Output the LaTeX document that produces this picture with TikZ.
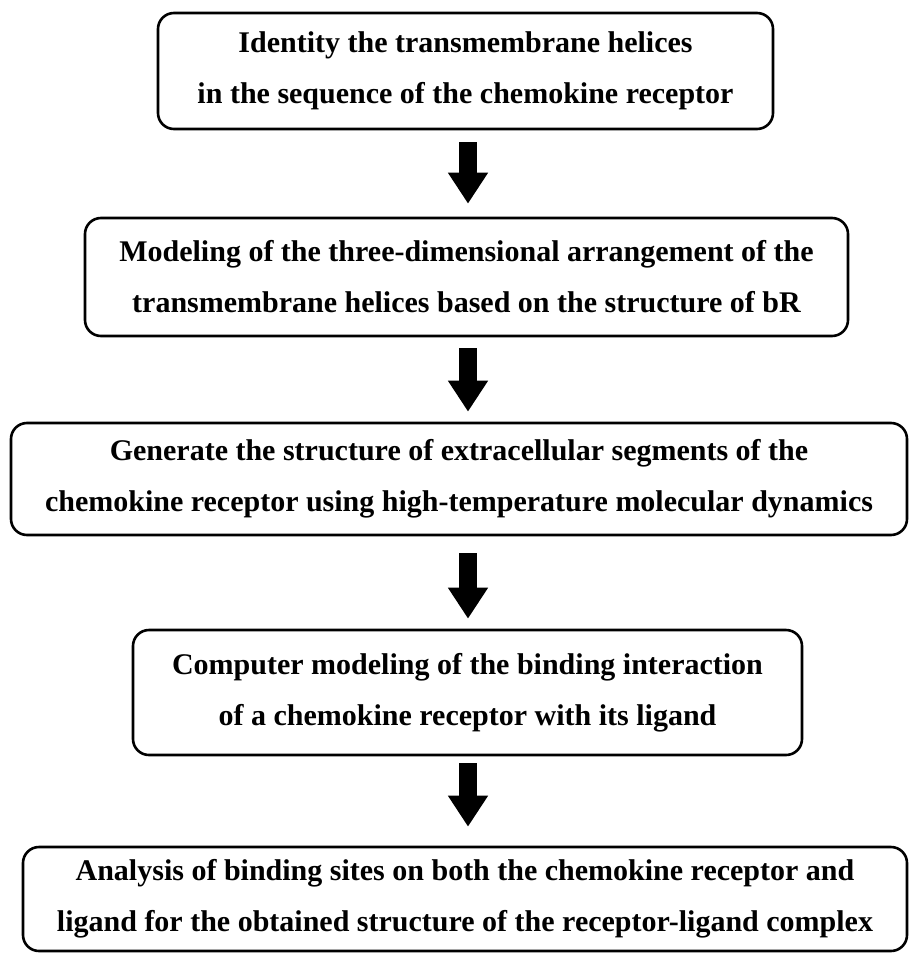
\documentclass[tikz,border=0pt]{standalone}
\usepackage{fontspec}
\setmainfont{Liberation Serif}
\usetikzlibrary{arrows.meta}

\begin{document}
\begin{tikzpicture}[x=1pt, y=1pt,
    stepbox/.style={draw, line width=2.6pt, rounded corners=16pt, align=center,
        font=\fontsize{30}{51}\selectfont\bfseries},
    downarrow/.style={line width=18pt, -{Triangle[width=38pt, length=31pt]}}]
    \useasboundingbox (0, 0) rectangle (909, -953);

    \node[stepbox, minimum width=615pt, minimum height=116pt] (b1) at (465.5, -71)
        {Identity the transmembrane helices\\in the sequence of the chemokine receptor};
    \node[stepbox, minimum width=763pt, minimum height=118pt] (b2) at (466.5, -277)
        {Modeling of the three-dimensional arrangement of the\\transmembrane helices based on the structure of bR};
    \node[stepbox, minimum width=896pt, minimum height=112pt] (b3) at (459, -479)
        {Generate the structure of extracellular segments of the\\chemokine receptor using high-temperature molecular dynamics};
    \node[stepbox, minimum width=669pt, minimum height=125pt] (b4) at (467.5, -692.5)
        {Computer modeling of the binding interaction\\of a chemokine receptor with its ligand};
    \node[stepbox, minimum width=884pt, minimum height=104pt] (b5) at (465, -899)
        {Analysis of binding sites on both the chemokine receptor and\\ligand for the obtained structure of the receptor-ligand complex};

    \draw[downarrow, shorten <=12pt, shorten >=13pt] (b1.south -| 468, 0) -- (b2.north -| 468, 0);
    \draw[downarrow, shorten <=11pt, shorten >=10pt] (b2.south -| 468, 0) -- (b3.north -| 468, 0);
    \draw[downarrow, shorten <=17pt, shorten >=10pt] (b3.south -| 468, 0) -- (b4.north -| 468, 0);
    \draw[downarrow, shorten <=7pt, shorten >=19pt] (b4.south -| 468, 0) -- (b5.north -| 468, 0);
\end{tikzpicture}
\end{document}
